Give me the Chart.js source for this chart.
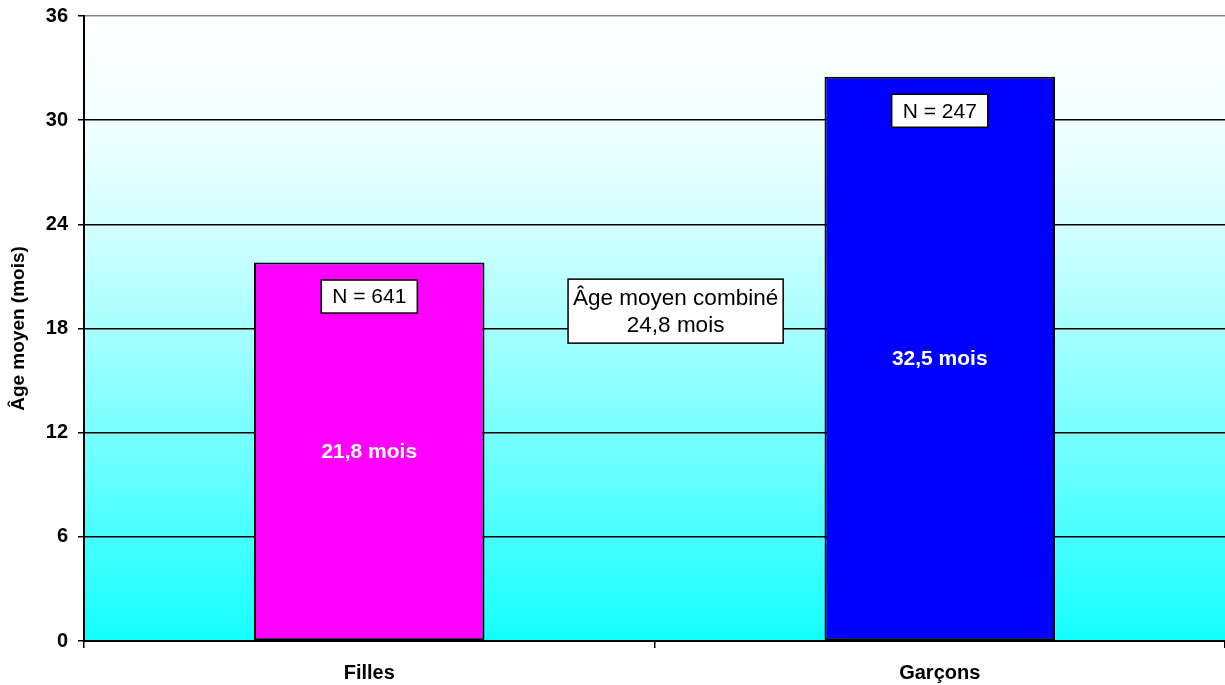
<!DOCTYPE html>
<html>
<head>
<meta charset="utf-8">
<script src="https://cdn.jsdelivr.net/npm/chart.js@4.4.1/dist/chart.umd.min.js"></script>
<style>
  html, body { margin: 0; padding: 0; background: #fff; }
  #wrap { width: 1225px; height: 685px; }
</style>
</head>
<body>
<div id="wrap"><canvas id="ageBar" width="1225" height="685"></canvas></div>
<script>
var categories = ["Filles", "Garçons"];
var ageMoyen = [21.8, 32.5];
var effectifs = [641, 247];
var ageCombine = 24.8;
var yTicks = [0, 6, 12, 18, 24, 30, 36];

var FONT = "'Liberation Sans', Arial, sans-serif";

function fr(v) {
  return v.toFixed(1).replace(".", ",");
}

// gradient fill behind the plot area (white on top, cyan at the bottom)
var bgPlugin = {
  id: "bgGrad",
  beforeDraw: function(chart) {
    var a = chart.chartArea, ctx = chart.ctx;
    var g = ctx.createLinearGradient(0, a.top, 0, a.bottom);
    g.addColorStop(0, "#ffffff");
    g.addColorStop(0.17, "#f2ffff");
    g.addColorStop(0.33, "#d4ffff");
    g.addColorStop(0.5, "#a8ffff");
    g.addColorStop(0.67, "#78ffff");
    g.addColorStop(0.83, "#48ffff");
    g.addColorStop(1, "#14ffff");
    ctx.save();
    ctx.fillStyle = g;
    ctx.fillRect(a.left, a.top, a.right - a.left, a.bottom - a.top);
    ctx.restore();
  }
};

function box(ctx, lines, cx, cy, w, lh, pad) {
  var h = lines.length * lh + pad;
  ctx.fillStyle = "#fff";
  ctx.strokeStyle = "#000";
  ctx.lineWidth = 1.5;
  ctx.fillRect(cx - w / 2, cy - h / 2, w, h);
  ctx.strokeRect(cx - w / 2, cy - h / 2, w, h);
  ctx.fillStyle = "#000";
  lines.forEach(function(t, i) {
    ctx.fillText(t, cx, cy - h / 2 + pad / 2 + lh * (i + 0.5) + 1);
  });
}

var labelPlugin = {
  id: "labels",
  afterDatasetsDraw: function(chart) {
    var ctx = chart.ctx;
    var xs = chart.scales.x, ys = chart.scales.y;
    ctx.save();
    ctx.textAlign = "center";
    ctx.textBaseline = "middle";
    chart.getDatasetMeta(0).data.forEach(function(bar, i) {
      // value inside the bar
      ctx.font = "bold 21px " + FONT;
      ctx.fillStyle = "#fff";
      ctx.fillText(fr(ageMoyen[i]) + " mois", bar.x, ys.getPixelForValue(ageMoyen[i] / 2));
      // N box
      ctx.font = "21px " + FONT;
      var t = "N = " + effectifs[i];
      box(ctx, [t], bar.x, bar.y + 34, ctx.measureText(t).width + 22, 25, 8);
    });
    ctx.font = "22.5px " + FONT;
    var l1 = "Âge moyen combiné";
    box(ctx, [l1, fr(ageCombine) + " mois"], xs.getPixelForValue(0.537), ys.getPixelForValue(19),
        ctx.measureText(l1).width + 10, 27, 10);
    ctx.restore();
  }
};

window.onload = function() {
  var ctx = document.getElementById("ageBar").getContext("2d");
  window.myBar = new Chart(ctx, {
    type: "bar",
    data: {
      labels: categories,
      datasets: [{
        data: ageMoyen,
        backgroundColor: ["#ff00ff", "#0000ff"],
        borderColor: "#000",
        borderWidth: 2,
        borderSkipped: false,
        categoryPercentage: 0.8,
        barPercentage: 0.505
      }]
    },
    options: {
      responsive: false,
      animation: false,
      layout: { padding: { top: 0, right: 0, bottom: 0, left: 0 } },
      plugins: { legend: { display: false }, tooltip: { enabled: false } },
      scales: {
        x: {
          afterFit: function(s) { s.height = 44; },
          border: { color: "#000", width: 2 },
          grid: { drawOnChartArea: false, drawTicks: true, tickLength: 7, color: "#000", lineWidth: 1.5 },
          ticks: { color: "#000", padding: 13, font: { family: FONT, size: 20, weight: "bold" } }
        },
        y: {
          min: 0, max: 36,
          afterFit: function(s) { s.width = 84; },
          afterBuildTicks: function(s) { s.ticks = yTicks.map(function(v) { return { value: v }; }); },
          border: { color: "#000", width: 2 },
          grid: {
            color: function(c) { return c.tick && c.tick.value === 36 ? "#888" : "#000"; },
            lineWidth: 1.5,
            tickLength: 6,
            tickColor: "#000"
          },
          ticks: { color: "#000", padding: 10, font: { family: FONT, size: 20, weight: "bold", lineHeight: 0.6 } },
          title: {
            display: true,
            text: "Âge moyen (mois)",
            color: "#000",
            padding: { top: 7, bottom: 0 },
            font: { family: FONT, size: 19, weight: "bold" }
          }
        }
      }
    },
    plugins: [bgPlugin, labelPlugin]
  });
};
</script>
</body>
</html>
